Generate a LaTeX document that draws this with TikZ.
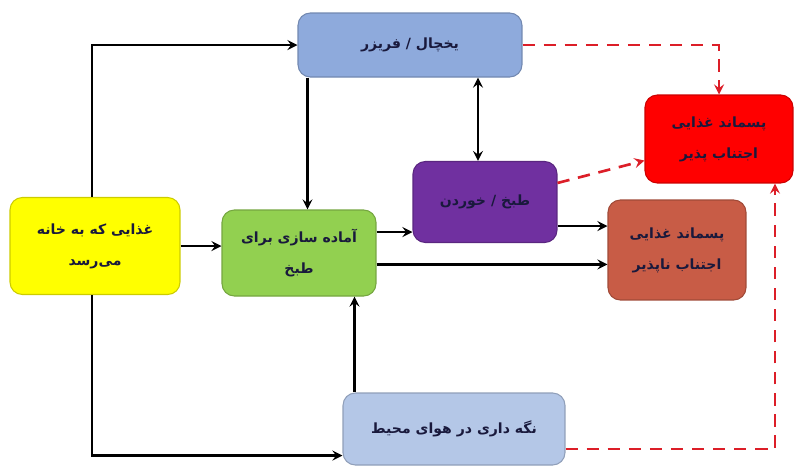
\documentclass[tikz,border=0pt]{standalone}
\usepackage{fontspec}
\usetikzlibrary{calc, positioning, arrows}
\TeXXeTstate=1
\newfontfamily\arabicfont[Script=Arabic]{DejaVu Sans}
\definecolor{fridge_blue}{RGB}{142,170,220}
\definecolor{air_blue}{RGB}{180,199,231}
\definecolor{home_yellow}{RGB}{255,255,0}
\definecolor{prep_green}{RGB}{146,208,80}
\definecolor{cook_purple}{RGB}{112,48,160}
\definecolor{waste_brown}{RGB}{200,92,70}
\definecolor{waste_red}{RGB}{255,0,0}
\definecolor{dash_red}{RGB}{220,30,40}
\definecolor{label_ink}{RGB}{25,25,60}
\tikzset{
    generic_node/.style={rectangle, rounded corners=7pt, text centered, align=center, draw=#1!80!black, fill=#1, line width=0.6pt, text=label_ink, font=\arabicfont\bfseries\footnotesize},
    arrow/.style={line width=1.5pt, ->, >=stealth},
    both_arrow/.style={line width=1.5pt, <->, >=stealth},
    dashed_arrow/.style={line width=1.5pt, ->, >=stealth, dash pattern=on 7pt off 5pt, draw=dash_red},
}
\newcommand{\fa}[1]{\beginR #1\endR}

\begin{document}
\begin{tikzpicture}[x=0.02cm, y=-0.02cm]
            \useasboundingbox (0,0) rectangle (795,468);
            %%%%%%%%%%%%%%%%%
            % STORAGE BOXES %
            %%%%%%%%%%%%%%%%%
            \node (fridge) [generic_node=fridge_blue, minimum width=4.48cm, minimum height=1.28cm] at (410,45)
                    {\fa{یخچال / فریزر}};
            \node (ambient) [generic_node=air_blue, minimum width=4.44cm, minimum height=1.44cm] at (454,429)
                    {\fa{نگه داری در هوای محیط}};

            %%%%%%%%%%%%%%%%
            % FOOD PATH    %
            %%%%%%%%%%%%%%%%
            \node (home) [generic_node=home_yellow, minimum width=3.4cm, minimum height=1.94cm] at (95,246)
                    {\fa{غذایی که به خانه}\\[8pt]\fa{می‌رسد}};
            \node (prep) [generic_node=prep_green, minimum width=3.08cm, minimum height=1.72cm] at (299,253)
                    {\fa{آماده سازی برای}\\[8pt]\fa{طبخ}};
            \node (cook) [generic_node=cook_purple, minimum width=2.88cm, minimum height=1.62cm] at (485,202)
                    {\fa{طبخ / خوردن}};

            %%%%%%%%%%%%%%%%
            % WASTE BOXES  %
            %%%%%%%%%%%%%%%%
            \node (waste_avoid) [generic_node=waste_red, minimum width=2.96cm, minimum height=1.76cm] at (719,139)
                    {\fa{پسماند غذایی}\\[8pt]\fa{اجتناب پذیر}};
            \node (waste_unavoid) [generic_node=waste_brown, minimum width=2.76cm, minimum height=2cm] at (677,250)
                    {\fa{پسماند غذایی}\\[8pt]\fa{اجتناب ناپذیر}};

            % connection points
            \coordinate (home_up) at ($(home.north)+(-3,0)$);
            \coordinate (home_down) at ($(home.south)+(-3,0)$);
            \coordinate (fridge_down) at ($(fridge.south west)+(10,0)$);
            \coordinate (cook_up) at ($(cook.north)+(-7,0)$);
            \coordinate (cook_in) at ($(cook.south west)+(0,-11)$);
            \coordinate (cook_out) at ($(cook.south east)+(0,-17)$);
            \coordinate (prep_out) at ($(prep.north east)+(0,55)$);
            \coordinate (ambient_up) at ($(ambient.north west)+(12,0)$);
            \coordinate (ambient_in) at ($(ambient.south west)+(0,-10)$);
            \coordinate (ambient_out) at ($(ambient.east)+(0,20)$);
            \coordinate (cook_corner) at ($(cook.north east)+(0,22)$);
            \coordinate (avoid_in) at ($(waste_avoid.south west)+(0,-23)$);
            \coordinate (avoid_up) at ($(waste_avoid.south)+(56,0)$);

            \draw [arrow] (home_up) |- (fridge.west);
            \draw [arrow] (home_down) |- (ambient_in);
            \draw [arrow] (home.east) -- (prep.west |- home.east);
            \draw [arrow] (fridge_down) -- (prep.north -| fridge_down);
            \draw [both_arrow] (fridge.south -| cook_up) -- (cook_up);
            \draw [arrow] (prep.east |- cook_in) -- (cook_in);
            \draw [arrow] (cook_out) -- (waste_unavoid.west |- cook_out);
            \draw [arrow] (prep_out) -- (waste_unavoid.west |- prep_out);
            \draw [arrow] (ambient_up) -- (prep.south -| ambient_up);

            \draw [dashed_arrow] (fridge.east) -| (waste_avoid.north);
            \draw [dashed_arrow] (cook_corner) -- (avoid_in);
            \draw [dashed_arrow] (ambient_out) -| (avoid_up);
      \end{tikzpicture}
\end{document}
